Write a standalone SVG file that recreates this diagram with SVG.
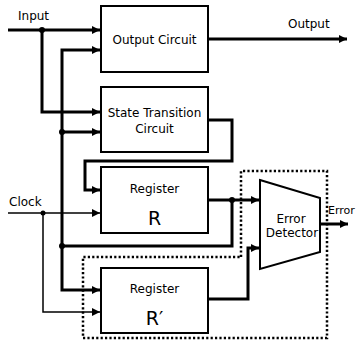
<svg xmlns="http://www.w3.org/2000/svg" width="358" height="343" viewBox="0 0 358 343">
<style>
text{font-family:"DejaVu Sans","Liberation Sans",sans-serif;font-size:12px;fill:#000}
.box{fill:#fff;stroke:#000;stroke-width:2}
.thick{fill:none;stroke:#000;stroke-width:3}
.thin{fill:none;stroke:#000;stroke-width:1.5}
.dot{fill:none;stroke:#000;stroke-width:2.5;stroke-dasharray:2.2 2.2}
.big{font-size:19px}
.c{text-anchor:middle}
.sm{font-size:11px}
</style>
<defs>
<marker id="ah" viewBox="0 0 10 10" refX="10" refY="5" markerWidth="8" markerHeight="8" markerUnits="userSpaceOnUse" orient="auto"><path d="M0,0L10,5L0,10z" fill="#000"/></marker>
</defs>
<rect width="358" height="343" fill="#fff"/>
<g id="connectors">
<path class="thick" d="M8,30H100" marker-end="url(#ah)"/>
<path class="thick" d="M42,30V112H100" marker-end="url(#ah)"/>
<path class="thick" d="M62,246V50H100" marker-end="url(#ah)"/>
<path class="thick" d="M62,132H100" marker-end="url(#ah)"/>
<path class="thick" d="M62,246V290H100" marker-end="url(#ah)"/>
<path class="thick" d="M208,39H347" marker-end="url(#ah)"/>
<path class="thick" d="M208,120H232V161H85V190H100" marker-end="url(#ah)"/>
<path class="thick" d="M208,200H259" marker-end="url(#ah)"/>
<path class="thick" d="M232,200V246H62"/>
<path class="thick" d="M208,299H248V248H259" marker-end="url(#ah)"/>
<path class="thick" d="M320,224H348" marker-end="url(#ah)"/>
<path class="thin" d="M8,213H100" marker-end="url(#ah)"/>
<path class="thin" d="M43,213V312H100" marker-end="url(#ah)"/>
<path class="dot" d="M241,257V171H327V338H83V257H241"/>
<circle cx="42" cy="30" r="3"/>
<circle cx="62" cy="132" r="3"/>
<circle cx="62" cy="246" r="3"/>
<circle cx="232" cy="200" r="3"/>
<circle cx="43" cy="213" r="2.5"/>
<text x="18" y="20">Input</text>
<text x="288" y="28">Output</text>
<text x="9" y="206">Clock</text>
<text class="sm" x="328" y="214">Error</text>
</g>
<g id="output-circuit">
<rect class="box" x="101" y="6" width="107" height="66"/>
<text class="c" x="154.5" y="44">Output Circuit</text>
</g>
<g id="state-transition">
<rect class="box" x="101" y="87" width="107" height="65"/>
<text class="c" x="154.5" y="117">State Transition</text>
<text class="c" x="154.5" y="133">Circuit</text>
</g>
<g id="register-r">
<rect class="box" x="101" y="167" width="107" height="66"/>
<text class="c" x="154.5" y="193">Register</text>
<text class="c big" x="154.5" y="225">R</text>
</g>
<g id="register-r-prime">
<rect class="box" x="101" y="268" width="107" height="65"/>
<text class="c" x="154.5" y="293">Register</text>
<text class="c big" x="154.5" y="325">R′</text>
</g>
<g id="error-detector">
<path class="box" d="M260,180L320,198V252L260,269Z"/>
<text class="c" x="291" y="223">Error</text>
<text class="c" x="292" y="237">Detector</text>
</g>
</svg>
